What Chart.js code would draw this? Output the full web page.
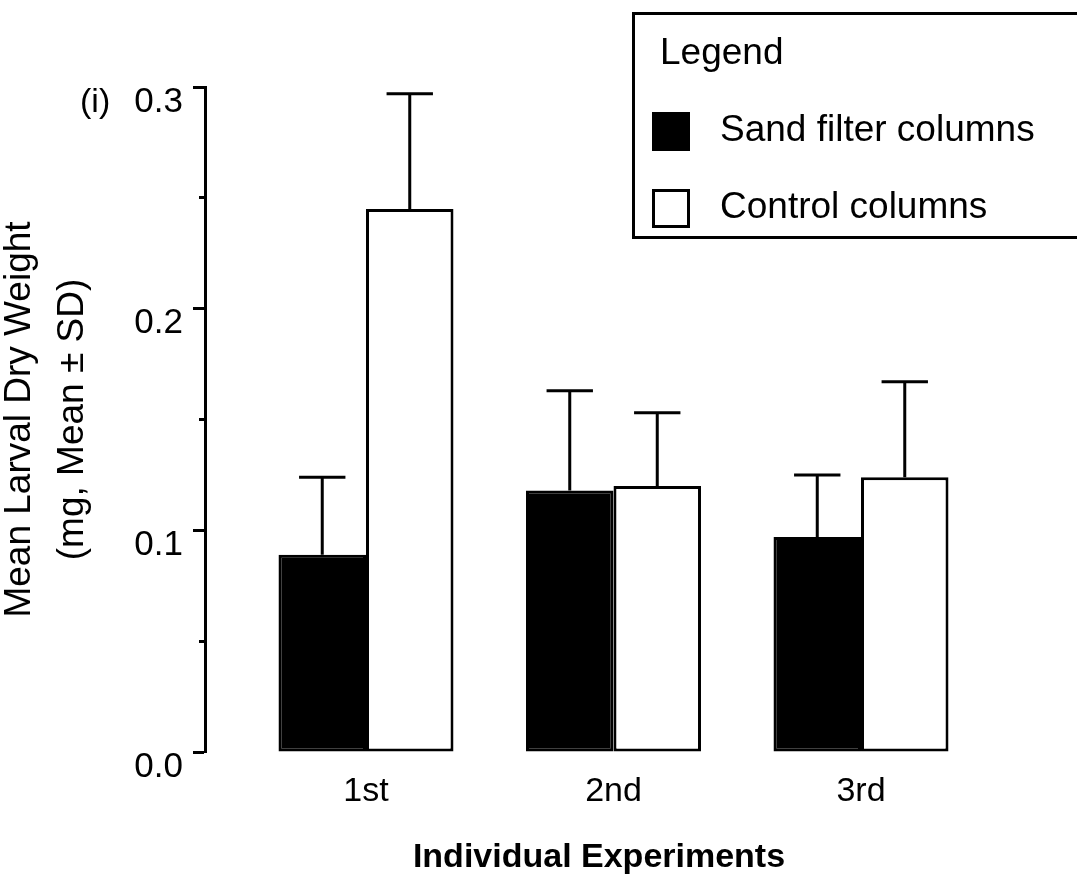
<!DOCTYPE html>
<html>
<head>
<meta charset="utf-8">
<script src="https://cdn.jsdelivr.net/npm/chart.js@4/dist/chart.umd.min.js"></script>
<style>
html,body{margin:0;padding:0;background:#fff;}
#wrap{width:1077px;height:884px;}
canvas{display:block;}
</style>
</head>
<body>
<div id="wrap"><canvas id="c" width="1077" height="884"></canvas></div>
<script>
// ---- data ----
const categories = ['1st', '2nd', '3rd'];
const sandMeans = [0.089, 0.118, 0.097];
const sandSD = [0.035, 0.045, 0.028];
const controlMeans = [0.245, 0.120, 0.124];
const controlSD = [0.052, 0.033, 0.043];
const yMajorTicks = [0.0, 0.1, 0.2, 0.3];
const yTickLabels = ['0.0', '0.1', '0.2', '0.3'];
const yMinorTicks = [0.05, 0.15, 0.25];
const seriesNames = ['Sand filter columns', 'Control columns'];
const panelLabel = '(i)';
const yTitle = ['Mean Larval Dry Weight', '(mg, Mean \u00b1 SD)'];
const xTitle = 'Individual Experiments';
const legendTitle = 'Legend';

const FONT = "'Liberation Sans', Arial, Helvetica, sans-serif";
Chart.defaults.font.family = FONT;
Chart.defaults.color = '#000';

const errorBars = {
  id: 'errorBars',
  afterDatasetsDraw(chart) {
    const ctx = chart.ctx;
    const y = chart.scales.y;
    chart.data.datasets.forEach((ds, di) => {
      const meta = chart.getDatasetMeta(di);
      meta.data.forEach((bar, i) => {
        const base = y.getPixelForValue(ds.data[i]);
        const top = y.getPixelForValue(ds.data[i] + ds.sd[i]);
        const half = bar.width * 0.265;
        ctx.save();
        ctx.strokeStyle = '#000';
        ctx.lineWidth = 3;
        ctx.beginPath();
        ctx.moveTo(bar.x, base);
        ctx.lineTo(bar.x, top);
        ctx.moveTo(bar.x - half, top);
        ctx.lineTo(bar.x + half, top);
        ctx.stroke();
        ctx.restore();
      });
    });
  }
};

const legendBox = {
  id: 'legendBox',
  afterDraw(chart) {
    const ctx = chart.ctx;
    ctx.save();
    ctx.lineWidth = 3;
    ctx.strokeStyle = '#000';
    ctx.strokeRect(633.5, 13.5, 470, 224);
    ctx.fillStyle = '#000';
    ctx.font = '37px ' + FONT;
    ctx.textBaseline = 'middle';
    ctx.textAlign = 'left';
    ctx.fillText(legendTitle, 660, 54);
    const rows = [131, 208];
    chart.data.datasets.forEach((ds, i) => {
      const cy = rows[i];
      ctx.fillStyle = ds.backgroundColor;
      ctx.fillRect(652, cy - 19, 38, 39);
      ctx.strokeRect(653.5, cy - 17.5, 35, 36);
      ctx.fillStyle = '#000';
      ctx.fillText(ds.label, 720, cy);
    });
    ctx.font = '34px ' + FONT;
    ctx.fillText(panelLabel, 80, 103);
    ctx.restore();
  }
};

new Chart(document.getElementById('c'), {
  type: 'bar',
  data: {
    labels: categories.map((c, i) => i + 1),
    datasets: [
      { label: seriesNames[0], data: sandMeans, sd: sandSD, backgroundColor: '#000', borderColor: '#000', borderWidth: 3, borderSkipped: false, categoryPercentage: 0.7071, barPercentage: 1 },
      { label: seriesNames[1], data: controlMeans, sd: controlSD, backgroundColor: '#fff', borderColor: '#000', borderWidth: 3, borderSkipped: false, categoryPercentage: 0.7071, barPercentage: 1 }
    ]
  },
  options: {
    responsive: false,
    animation: false,
    devicePixelRatio: 1,
    layout: { padding: { left: 0, right: 84, top: 87, bottom: 0 } },
    plugins: { legend: { display: false }, tooltip: { enabled: false } },
    scales: {
      x: {
        type: 'linear', min: 0.3495, max: 3.5333, offset: false,
        grid: { display: false, drawTicks: false },
        border: { display: false },
        afterBuildTicks: s => { s.ticks = categories.map((c, i) => ({ value: i + 1 })); },
        ticks: { padding: 19, font: { size: 34 }, color: '#000', callback: v => categories[Math.round(v) - 1] },
        title: { display: true, text: xTitle, color: '#000', font: { size: 34, weight: 'bold' }, padding: { top: 0, bottom: 6 } },
        afterFit: s => { s.height = 132; }
      },
      y: {
        type: 'linear', position: 'left', weight: 1, min: 0, max: 0.3,
        afterBuildTicks: s => { s.ticks = yMajorTicks.map(v => ({ value: v })); },
        ticks: { padding: 10, labelOffset: 15, font: { size: 35 }, color: '#000', callback: (v, i) => yTickLabels[i] },
        grid: { drawOnChartArea: false, drawTicks: true, tickLength: 12, tickWidth: 3, tickColor: '#000' },
        border: { display: true, color: '#000', width: 3 },
        title: { display: true, text: yTitle, color: '#000', font: { size: 37, lineHeight: 1.42 }, padding: { top: -6, bottom: 0 } },
        afterFit: s => { s.width = 205; }
      },
      y2: {
        type: 'linear', position: 'left', weight: 0, min: 0, max: 0.3,
        afterBuildTicks: s => { s.ticks = yMinorTicks.map(v => ({ value: v })); },
        ticks: { display: false },
        grid: { drawOnChartArea: false, drawTicks: true, tickLength: 6, tickWidth: 3, tickColor: '#000' },
        border: { display: false },
        afterFit: s => { s.width = 0; }
      }
    }
  },
  plugins: [errorBars, legendBox]
});
</script>
</body>
</html>
